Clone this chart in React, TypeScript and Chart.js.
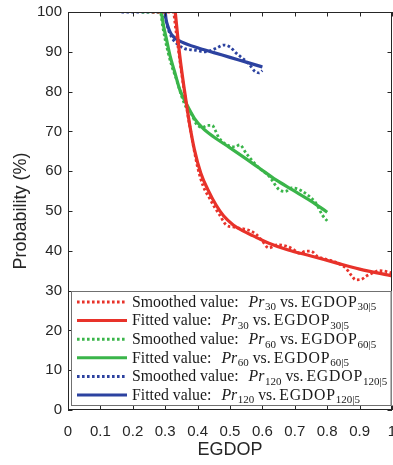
import React, { useEffect, useRef } from 'react';
import { Chart, registerables } from 'chart.js';
Chart.register(...registerables);

// ---- data ----
const xTitle = 'EGDOP';
const yTitle = 'Probability (%)';
const seriesIds = ['30', '60', '120'];
const legendPrefixes = ['Smoothed value:', 'Fitted value:'];

const red30FitX = [0.331, 0.345, 0.36, 0.375, 0.39, 0.41, 0.434, 0.457, 0.48, 0.51, 0.54, 0.57, 0.62, 0.68, 0.75, 0.83, 0.9, 1.0];
const red30FitY = [100, 89, 80, 72, 65.5, 59.5, 55, 51.5, 48.8, 46.5, 45, 43.8, 41.9, 40.2, 38.7, 36.9, 35.4, 33.7];

const red30SmX = [0.26, 0.3, 0.325, 0.332, 0.34, 0.35, 0.36, 0.37, 0.38, 0.39, 0.4, 0.416, 0.437, 0.452, 0.468, 0.488, 0.51, 0.535, 0.554, 0.58, 0.6, 0.62, 0.645, 0.673, 0.695, 0.714, 0.735, 0.75, 0.77, 0.79, 0.81, 0.835, 0.857, 0.875, 0.888, 0.905, 0.92, 0.94, 0.96, 0.975, 1.0];
const red30SmY = [100, 100, 100, 96, 91, 85, 79.5, 74, 69.5, 65, 61, 56.5, 53.2, 51, 49, 46.5, 46, 45.6, 45.3, 44.2, 42.4, 40.7, 41.5, 41.2, 40.4, 39.4, 39.9, 39.9, 38.6, 38, 37.6, 36.8, 35.7, 33.8, 32.7, 32.8, 33.6, 34.4, 35, 34.9, 34.4];

const green60FitX = [0.288, 0.295, 0.303, 0.315, 0.329, 0.345, 0.365, 0.39, 0.416, 0.45, 0.498, 0.55, 0.59, 0.642, 0.693, 0.75, 0.8];
const green60FitY = [100, 96.5, 93.5, 89, 85, 80.5, 77, 73.3, 70.8, 68.6, 66, 63.1, 60.8, 57.8, 55.3, 52.5, 49.7];

const green60SmX = [0.228, 0.26, 0.285, 0.292, 0.3, 0.31, 0.32, 0.335, 0.35, 0.365, 0.38, 0.395, 0.405, 0.415, 0.43, 0.445, 0.455, 0.465, 0.48, 0.5, 0.515, 0.53, 0.55, 0.57, 0.59, 0.62, 0.65, 0.67, 0.69, 0.71, 0.735, 0.765, 0.785, 0.8];
const green60SmY = [100, 100, 100, 96.5, 93, 89.5, 86.5, 83, 79, 76, 74.5, 72, 71.2, 71, 71.5, 71.5, 70.2, 68.5, 67.2, 66.3, 66.1, 66.6, 64.5, 62.5, 60.8, 58.8, 55.5, 54.9, 55.8, 55.5, 54.3, 52, 49, 47.5];

const blue120FitX = [0.3, 0.303, 0.308, 0.315, 0.323, 0.335, 0.35, 0.4, 0.45, 0.5, 0.55, 0.6];
const blue120FitY = [100, 98, 96.5, 95, 94, 93.2, 92.5, 91, 89.8, 88.6, 87.4, 86.2];

const blue120SmX = [0.165, 0.2, 0.25, 0.29, 0.3, 0.31, 0.325, 0.34, 0.36, 0.38, 0.4, 0.42, 0.44, 0.46, 0.48, 0.5, 0.52, 0.54, 0.56, 0.575, 0.59, 0.6];
const blue120SmY = [100, 100, 100, 100, 98.5, 95.5, 93, 91.8, 90.8, 90.5, 90.3, 90, 90.3, 91, 91.7, 91.2, 89.6, 88.3, 86.8, 85.2, 84.7, 85.3];

// ---- styles ----
const RED = 'rgb(232,50,42)';
const GREEN = 'rgb(58,181,74)';
const BLUE = 'rgb(44,66,160)';
const SERIES_COLORS = [RED, GREEN, BLUE];
const DOT_DASH = [2.6, 2.4];
const AXIS_COLOR = '#262626';
const SANS = '"Liberation Sans", Arial, sans-serif';
const SERIF = '"Liberation Serif", "Times New Roman", serif';

const pts = (xs: number[], ys: number[]) => xs.map((x, i) => ({ x, y: ys[i] }));
const fmt = (v: any) => String(Math.round(Number(v) * 10) / 10);

function drawRich(ctx: CanvasRenderingContext2D, x: number, y: number, segs: any[]) {
  for (const s of segs) {
    ctx.font = s.font;
    (ctx as any).letterSpacing = s.ls || '0px';
    ctx.fillText(s.t, x, y + (s.dy || 0));
    x += ctx.measureText(s.t).width + (s.gap || 0);
  }
  (ctx as any).letterSpacing = '0px';
}

const framePlugin = {
  id: 'frameAndLegend',
  afterDatasetsDraw(chart: any) {
    const { ctx, chartArea: a, scales } = chart;
    const xs = scales.x, ys = scales.y;
    ctx.save();
    ctx.strokeStyle = AXIS_COLOR;
    ctx.lineWidth = 1;
    ctx.strokeRect(a.left + 0.5, a.top + 0.5, a.right - a.left - 1, a.bottom - a.top - 1);
    ctx.beginPath();
    const L = 4.5;
    xs.ticks.forEach((t: any) => {
      const px = Math.round(xs.getPixelForValue(t.value)) + 0.5;
      ctx.moveTo(px, a.bottom); ctx.lineTo(px, a.bottom - L);
      ctx.moveTo(px, a.top); ctx.lineTo(px, a.top + L);
    });
    ys.ticks.forEach((t: any) => {
      const py = Math.round(ys.getPixelForValue(t.value)) + 0.5;
      ctx.moveTo(a.left, py); ctx.lineTo(a.left + L, py);
      ctx.moveTo(a.right, py); ctx.lineTo(a.right - L, py);
    });
    ctx.stroke();

    // legend box
    const bx = a.left + 3, by = a.bottom - 119, bw = a.right - a.left - 3.5, bh = 115;
    ctx.fillStyle = '#ffffff';
    ctx.fillRect(bx, by, bw, bh);
    ctx.strokeStyle = '#707070';
    ctx.strokeRect(bx + 0.5, by + 0.5, bw - 1, bh - 1);

    for (let i = 0; i < 6; i++) {
      const s = Math.floor(i / 2);
      const smoothed = i % 2 === 0;
      const ry = by + 11 + i * 18.6;
      ctx.beginPath();
      ctx.strokeStyle = SERIES_COLORS[s];
      ctx.lineWidth = 3;
      ctx.setLineDash(smoothed ? DOT_DASH : []);
      ctx.moveTo(a.left + 9, ry);
      ctx.lineTo(a.left + 59, ry);
      ctx.stroke();
      ctx.setLineDash([]);
      ctx.fillStyle = '#1a1a1a';
      ctx.textBaseline = 'alphabetic';
      ctx.textAlign = 'left';
      const id = seriesIds[s];
      drawRich(ctx, a.left + 64, ry + 4.8, [
        { t: legendPrefixes[smoothed ? 0 : 1], font: `15.8px ${SERIF}`, gap: 10 },
        { t: 'Pr', font: `italic 15.8px ${SERIF}`, gap: 0.5 },
        { t: id, font: `11px ${SERIF}`, dy: 3.5, gap: 4 },
        { t: 'vs.', font: `15.8px ${SERIF}`, gap: 3 },
        { t: 'EGDOP', font: `15.8px ${SERIF}`, ls: '0.8px', gap: 0 },
        { t: id + '|5', font: `11px ${SERIF}`, dy: 3.5, gap: 0 },
      ]);
    }
    ctx.restore();
  },
};

export default function App() {
  const ref = useRef<HTMLCanvasElement | null>(null);
  useEffect(() => {
    if (!ref.current) return;
    const mk = (label: string, xs: number[], ys: number[], color: string, smoothed: boolean, order: number) => ({
      label,
      data: pts(xs, ys),
      borderColor: color,
      backgroundColor: color,
      borderWidth: smoothed ? 2.8 : 3.2,
      borderDash: smoothed ? DOT_DASH : [],
      pointRadius: 0,
      fill: false,
      cubicInterpolationMode: 'monotone',
      order,
    });
    const chart = new Chart(ref.current, {
      type: 'line',
      data: {
        datasets: [
          mk('Fitted 30', red30FitX, red30FitY, RED, false, 1),
          mk('Smoothed 30', red30SmX, red30SmY, RED, true, 2),
          mk('Fitted 60', green60FitX, green60FitY, GREEN, false, 3),
          mk('Smoothed 60', green60SmX, green60SmY, GREEN, true, 4),
          mk('Fitted 120', blue120FitX, blue120FitY, BLUE, false, 5),
          mk('Smoothed 120', blue120SmX, blue120SmY, BLUE, true, 6),
        ] as any,
      },
      options: {
        animation: false,
        responsive: false,
        devicePixelRatio: 1,
        events: [],
        layout: { padding: { top: 12, right: 1, left: 0, bottom: 0 } },
        plugins: { legend: { display: false }, tooltip: { enabled: false } },
        scales: {
          x: {
            type: 'linear',
            min: 0,
            max: 1,
            grid: { display: false, drawTicks: false },
            border: { display: false },
            ticks: {
              stepSize: 0.1,
              autoSkip: false,
              maxRotation: 0,
              color: AXIS_COLOR,
              padding: 13,
              font: { family: SANS, size: 15 },
              callback: fmt,
            },
            title: {
              display: true,
              text: xTitle,
              color: AXIS_COLOR,
              font: { family: SANS, size: 18 },
              padding: { top: 0, bottom: 4 },
            },
            afterFit: (s: any) => { s.height = 55; s.paddingLeft = 0; s.paddingRight = 0; },
          },
          y: {
            type: 'linear',
            min: 0,
            max: 100,
            grid: { display: false, drawTicks: false },
            border: { display: false },
            ticks: {
              stepSize: 10,
              color: AXIS_COLOR,
              padding: 6,
              font: { family: SANS, size: 15 },
              callback: fmt,
            },
            title: {
              display: true,
              text: yTitle,
              color: AXIS_COLOR,
              font: { family: SANS, size: 18 },
              padding: { top: 10, bottom: 0 },
            },
            afterFit: (s: any) => { s.width = 68; s.paddingTop = 0; s.paddingBottom = 0; },
          },
        },
      } as any,
      plugins: [framePlugin],
    });
    return () => chart.destroy();
  }, []);
  return (
    <div style={{ position: 'absolute', left: 0, top: 0, width: 393, height: 465, background: '#fff' }}>
      <canvas ref={ref} width={393} height={465} style={{ width: 393, height: 465, display: 'block' }} />
    </div>
  );
}
